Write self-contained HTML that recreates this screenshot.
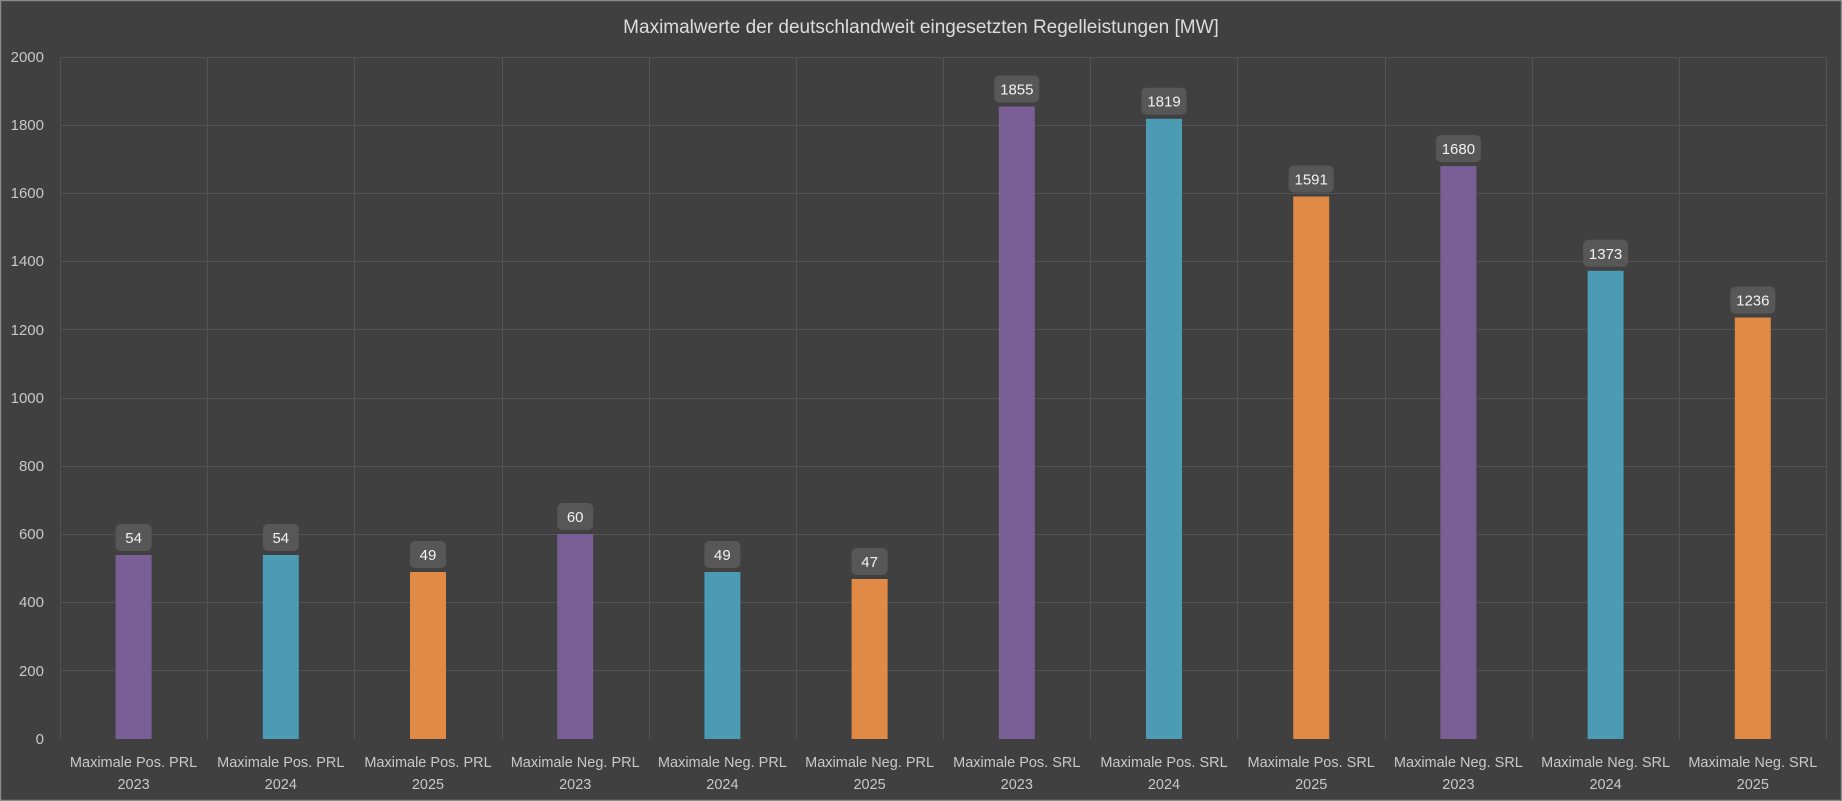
<!DOCTYPE html>
<html><head><meta charset="utf-8"><style>
html,body{margin:0;padding:0;background:#404040;}
svg{display:block;font-family:"Liberation Sans",sans-serif;}
</style></head><body>
<svg width="1842" height="801" viewBox="0 0 1842 801" xmlns="http://www.w3.org/2000/svg">
<rect x="0.5" y="0.5" width="1841" height="800" fill="#404040" stroke="#8a8a8a" stroke-width="1.5"/>
<text x="921" y="33" text-anchor="middle" fill="#dcdcdc" font-size="19">Maximalwerte der deutschlandweit eingesetzten Regelleistungen [MW]</text>
<g stroke="#535353" stroke-width="1">
<line x1="60" x2="1826" y1="57.5" y2="57.5"/>
<line x1="60" x2="1826" y1="125.5" y2="125.5"/>
<line x1="60" x2="1826" y1="193.5" y2="193.5"/>
<line x1="60" x2="1826" y1="261.5" y2="261.5"/>
<line x1="60" x2="1826" y1="329.5" y2="329.5"/>
<line x1="60" x2="1826" y1="398.5" y2="398.5"/>
<line x1="60" x2="1826" y1="466.5" y2="466.5"/>
<line x1="60" x2="1826" y1="534.5" y2="534.5"/>
<line x1="60" x2="1826" y1="602.5" y2="602.5"/>
<line x1="60" x2="1826" y1="670.5" y2="670.5"/>
<line x1="60.5" x2="60.5" y1="57" y2="739"/>
<line x1="207.5" x2="207.5" y1="57" y2="739"/>
<line x1="354.5" x2="354.5" y1="57" y2="739"/>
<line x1="502.5" x2="502.5" y1="57" y2="739"/>
<line x1="649.5" x2="649.5" y1="57" y2="739"/>
<line x1="796.5" x2="796.5" y1="57" y2="739"/>
<line x1="943.5" x2="943.5" y1="57" y2="739"/>
<line x1="1090.5" x2="1090.5" y1="57" y2="739"/>
<line x1="1237.5" x2="1237.5" y1="57" y2="739"/>
<line x1="1385.5" x2="1385.5" y1="57" y2="739"/>
<line x1="1532.5" x2="1532.5" y1="57" y2="739"/>
<line x1="1679.5" x2="1679.5" y1="57" y2="739"/>
<line x1="1826.5" x2="1826.5" y1="57" y2="739"/>
</g>
<g fill="#c8c8c8" font-size="15" text-anchor="end">
<text x="44" y="62">2000</text><text x="44" y="130">1800</text><text x="44" y="198">1600</text>
<text x="44" y="266">1400</text><text x="44" y="335">1200</text><text x="44" y="403">1000</text>
<text x="44" y="471">800</text><text x="44" y="539">600</text><text x="44" y="607">400</text>
<text x="44" y="676">200</text><text x="44" y="744">0</text>
</g>
<g>
<rect x="115.6" y="555" width="36" height="184" fill="#7a5f96"/>
<rect x="262.8" y="555" width="36" height="184" fill="#4a9bb3"/>
<rect x="410" y="572" width="36" height="167" fill="#e08a45"/>
<rect x="557.2" y="534" width="36" height="205" fill="#7a5f96"/>
<rect x="704.4" y="572" width="36" height="167" fill="#4a9bb3"/>
<rect x="851.6" y="579" width="36" height="160" fill="#e08a45"/>
<rect x="998.8" y="106.5" width="36" height="632.5" fill="#7a5f96"/>
<rect x="1146" y="118.7" width="36" height="620.3" fill="#4a9bb3"/>
<rect x="1293.2" y="196.5" width="36" height="542.5" fill="#e08a45"/>
<rect x="1440.4" y="166.1" width="36" height="572.9" fill="#7a5f96"/>
<rect x="1587.6" y="270.8" width="36" height="468.2" fill="#4a9bb3"/>
<rect x="1734.8" y="317.5" width="36" height="421.5" fill="#e08a45"/>
</g>
<g fill="#575757">
<rect x="115.6" y="524" width="36" height="27" rx="5"/>
<rect x="262.8" y="524" width="36" height="27" rx="5"/>
<rect x="410" y="541" width="36" height="27" rx="5"/>
<rect x="557.2" y="503" width="36" height="27" rx="5"/>
<rect x="704.4" y="541" width="36" height="27" rx="5"/>
<rect x="851.6" y="548" width="36" height="27" rx="5"/>
<rect x="994.3" y="75.5" width="45" height="27" rx="5"/>
<rect x="1141.5" y="87.7" width="45" height="27" rx="5"/>
<rect x="1288.7" y="165.5" width="45" height="27" rx="5"/>
<rect x="1435.9" y="135.1" width="45" height="27" rx="5"/>
<rect x="1583.1" y="239.8" width="45" height="27" rx="5"/>
<rect x="1730.3" y="286.5" width="45" height="27" rx="5"/>
</g>
<g fill="#f2f2f2" font-size="15" text-anchor="middle">
<text x="133.6" y="543">54</text><text x="280.8" y="543">54</text><text x="428" y="560">49</text>
<text x="575.2" y="522">60</text><text x="722.4" y="560">49</text><text x="869.6" y="567">47</text>
<text x="1016.8" y="94.5">1855</text><text x="1164" y="106.7">1819</text><text x="1311.2" y="184.5">1591</text>
<text x="1458.4" y="154.1">1680</text><text x="1605.6" y="258.8">1373</text><text x="1752.8" y="305.5">1236</text>
</g>
<g fill="#c8c8c8" font-size="14.5" text-anchor="middle">
<text x="133.6" y="767">Maximale Pos. PRL</text><text x="133.6" y="789">2023</text>
<text x="280.8" y="767">Maximale Pos. PRL</text><text x="280.8" y="789">2024</text>
<text x="428" y="767">Maximale Pos. PRL</text><text x="428" y="789">2025</text>
<text x="575.2" y="767">Maximale Neg. PRL</text><text x="575.2" y="789">2023</text>
<text x="722.4" y="767">Maximale Neg. PRL</text><text x="722.4" y="789">2024</text>
<text x="869.6" y="767">Maximale Neg. PRL</text><text x="869.6" y="789">2025</text>
<text x="1016.8" y="767">Maximale Pos. SRL</text><text x="1016.8" y="789">2023</text>
<text x="1164" y="767">Maximale Pos. SRL</text><text x="1164" y="789">2024</text>
<text x="1311.2" y="767">Maximale Pos. SRL</text><text x="1311.2" y="789">2025</text>
<text x="1458.4" y="767">Maximale Neg. SRL</text><text x="1458.4" y="789">2023</text>
<text x="1605.6" y="767">Maximale Neg. SRL</text><text x="1605.6" y="789">2024</text>
<text x="1752.8" y="767">Maximale Neg. SRL</text><text x="1752.8" y="789">2025</text>
</g>
</svg>
</body></html>
